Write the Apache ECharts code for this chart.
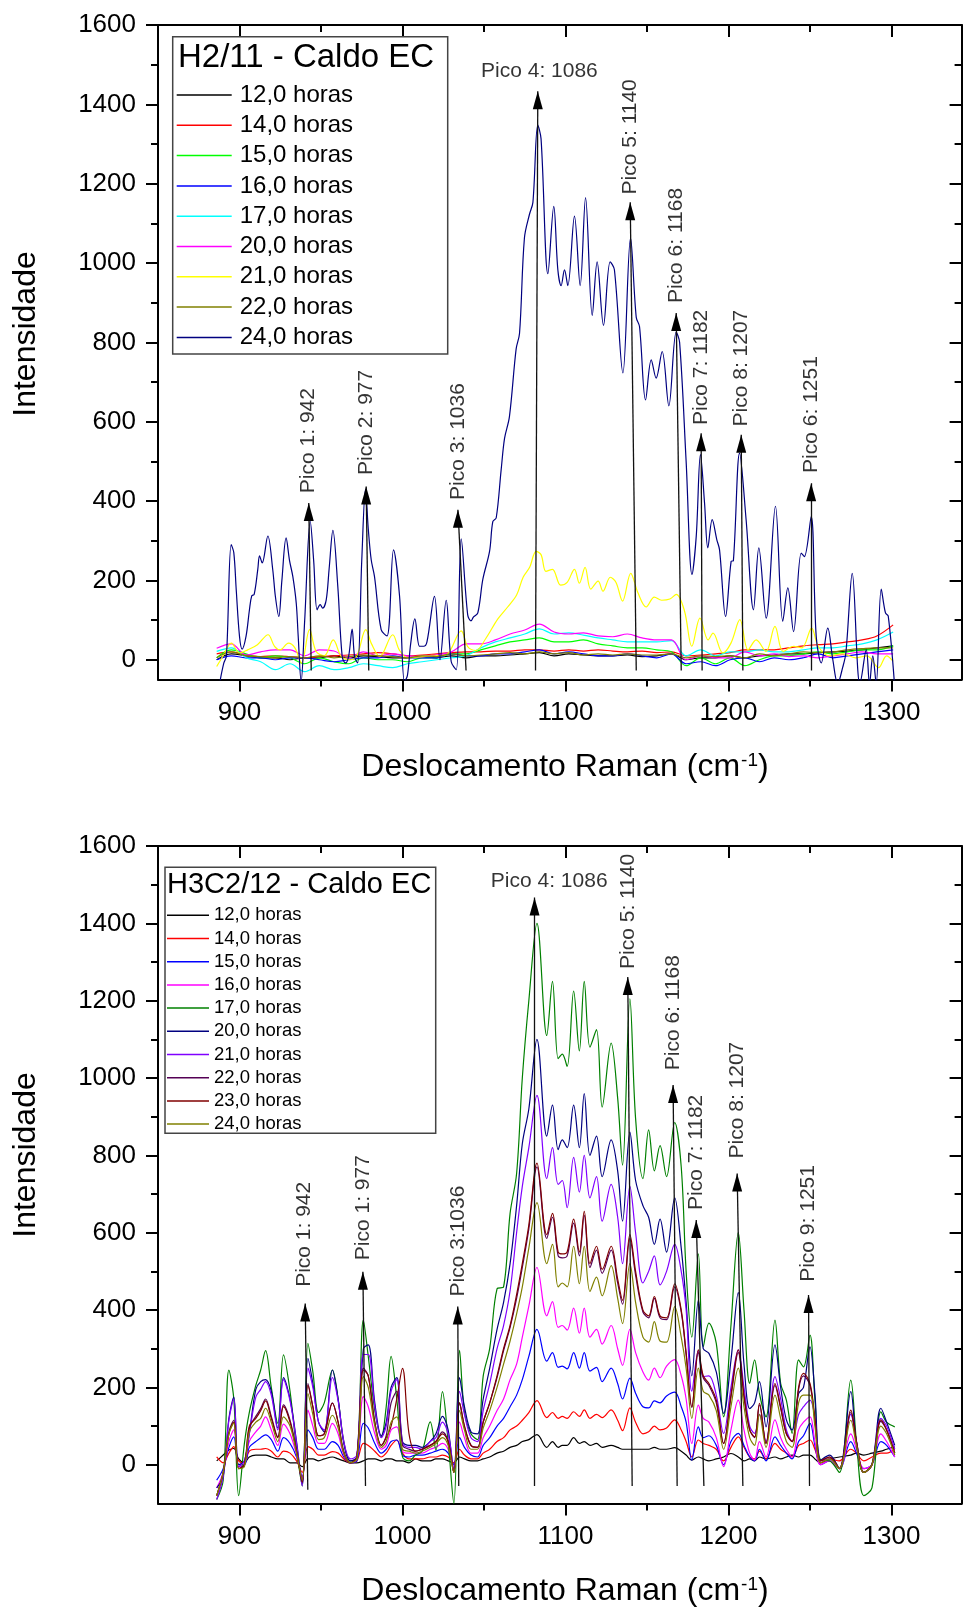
<!DOCTYPE html>
<html><head><meta charset="utf-8">
<script src="https://cdn.jsdelivr.net/npm/echarts@6/dist/echarts.min.js"></script>
<style>html,body{margin:0;padding:0;background:#fff}#c{width:964px;height:1611px}</style>
</head><body><div id="c"></div>
<script>
// ---------------- DATA ----------------
const hoursTop = ['12,0 horas','14,0 horas','15,0 horas','16,0 horas','17,0 horas','20,0 horas','21,0 horas','22,0 horas','24,0 horas'];
const hoursBottom = ['12,0 horas','14,0 horas','15,0 horas','16,0 horas','17,0 horas','20,0 horas','21,0 horas','22,0 horas','23,0 horas','24,0 horas'];
const topColors = ['#000000','#ff0000','#00ff00','#0000ff','#00ffff','#ff00ff','#ffff00','#808000','#000080'];
const bottomColors = ['#000000','#ff0000','#0000ff','#ff00ff','#008000','#000080','#8000ff','#550055','#800000','#808000'];

const xMajorTicks = [900,1000,1100,1200,1300];
const xMinorTicks = [950,1050,1150,1250];
const yMajorTicks = [0,200,400,600,800,1000,1200,1400,1600];
const yMinorTicks = [100,300,500,700,900,1100,1300,1500];

// top panel (H2/11) – low-intensity series share this grid
const topLowX = [886,895,904,913,922,931,940,949,958,967, 976,985,994,1003,1012,1021,1030,1039,1048,1057, 1066,1075,1084,1093,1102,1111,1120,1129,1138,1147, 1156,1165,1174,1183,1192,1201,1210,1219,1228,1237, 1246,1255,1264,1273,1282,1291,1301];
const top12 = [0,15,10,5,5,0,5,5,10,5, 10,8,5,5,8,5,10,5,10,10, 12,15,18,10,15,12,10,10,12,8, 10,15,0,5,5,10,5,10,12,15, 15,18,20,22,25,30,35];
const top14 = [15,20,12,8,10,8,5,8,10,12, 15,18,15,10,12,15,18,20,20,22, 22,25,25,22,25,22,25,22,20,22, 18,20,10,12,15,18,25,25,25,30, 35,38,40,45,50,60,88];
const top15 = [5,25,15,5,10,5,-10,5,-5,-10, 5,0,0,-5,5,5,15,15,25,35, 45,50,55,45,45,50,40,35,30,30, 25,20,-15,5,-10,5,-15,0,10,10, 15,20,15,20,25,25,35];
const top16 = [0,10,5,5,0,5,5,0,-5,0, 5,5,10,5,5,5,15,10,10,15, 15,20,25,15,20,15,10,10,15,10, 5,15,-10,-5,-15,0,5,-5,5,0, 5,15,5,10,15,20,25];
const top17 = [21,30,5,-5,-25,-10,-30,-15,-25,-20, -10,-15,-20,-10,-5,0,5,10,30,45, 55,65,78,65,68,62,55,50,45,45, 45,48,10,25,10,20,20,25,20,20, 25,30,30,35,40,50,70];
const top20 = [29,40,12,20,25,25,10,25,22,5, 20,10,15,10,8,12,20,40,40,50, 65,75,90,70,65,68,60,58,65,55, 50,50,0,10,5,5,20,10,15,8, 10,5,10,15,20,15,15];
const top22 = [5,20,10,8,5,8,5,10,5,8, 12,10,8,5,10,8,15,10,12,15, 18,15,20,15,18,12,15,12,15,12, 12,15,5,10,8,10,5,15,10,15, 20,18,20,25,28,30,30];

const top21X = [886,890,895,900,905,911,917.5,921.5,925,930, 934,938,943,947,952,957.5,962.5,968,972,977.5, 981,986,994,998,1003,1012.5,1020,1027,1036,1040, 1045,1051,1058.5,1064.5,1070,1074,1078,1082,1085,1088, 1092,1097,1101,1105.5,1108.5,1112,1115.5,1120,1123,1127.5, 1131,1135,1140,1144.5,1149.5,1154.5,1159,1164,1168,1173, 1177.5,1182.5,1187.5,1190.5,1196.5,1201.5,1207,1212,1217,1223, 1228.5,1233.5,1240,1245,1251,1255,1262,1270,1278,1285, 1292,1297,1301];
const top21 = [-17,10,42,17,25,38,63,34,25,42, 30,-8,76,21,10,50,8,0,10,76, 40,8,63,25,5,8,10,13,73,33, 23,53,103,133,163,208,233,273,265,223, 228,188,195,228,193,233,178,198,173,208, 195,148,218,168,133,158,150,153,165,123, 34,105,50,67,17,42,101,25,50,21, 84,21,34,30,80,34,10,15,5,10, -20,10,-4];

const top24X = [888,890.4,892,894.9,896.5,898,900,901.6,904,906.1, 907.5,909,911.2,912.3,913.9,917.4,920.4,922,924.1,926, 928.6,930.7,932.7,934.8,936,937.8,940,943.4,945.5,947.6, 949.5,951,953.2,955,957.3,960.3,963,965,967,969.1, 970.6,972.5,975,977.3,979,980.8,982.8,986.9,990.5,994.5, 998.2,1001.2,1003,1005,1007.6,1010.5,1013,1015,1019.6,1023, 1026.8,1029.9,1033,1036,1040,1042,1043.6,1046.2,1049.3,1053.4, 1055.4,1057.5,1060.5,1062.6,1065.6,1069.7,1071.8,1074.8,1077.9,1080, 1083,1085,1089.2,1092.8,1095.3,1097.3,1099.4,1101.4,1105.5,1109, 1112.3,1116.4,1119.4,1123.3,1127.4,1130,1135.2,1139.9,1143.4,1145.4, 1149.1,1152.6,1155.6,1159.3,1163.4,1167.9,1170,1174,1177.6,1180.2, 1182.8,1185.3,1187.3,1190,1192.8,1194.5,1198.2,1201.6,1203,1206.8, 1210.8,1215.3,1218.6,1223.1,1228.8,1233.3,1236.4,1239.9,1244.6,1246.5, 1250.7,1253.8,1256.9,1260.9,1264,1267,1270,1272,1275.9,1279.3, 1280.5,1284.5,1286.5,1288.5,1290.6,1293.7,1296.3,1298,1301.8];
const top24 = [-55,-8,10,290,270,176,59,27,59,126, 161,165,227,262,244,312,227,160,109,200, 307,250,210,143,60,-55,100,349,250,126, 139,130,151,230,326,185,8,-8,10,77, 8,-8,250,430,330,252,210,76,60,277, 160,-55,-40,40,103,34,34,45,160,0, 150,-5,-25,305,113,98,108,118,203,273, 348,358,478,558,613,783,823,1063,1123,1153, 1348,1313,973,1143,983,943,983,943,1118,943, 1165,868,1003,843,1003,983,723,1063,863,840, 655,756,710,777,640,826,800,500,215,311, 517,395,282,353,303,277,109,248,250,521, 353,126,282,105,387,97,181,71,269,260, 361,59,-8,80,0,-60,-20,17,218,-25, -60,25,-60,10,-60,178,118,110,-60];

// bottom panel (H3C2/12) – all series share this grid
const botX = [886,890,893.5,896.5,899.5,903,906,910,913,916, 919.5,923.5,927,931,935,938.5,942,945,948.5,952, 957,960.5,964,968,972,976,979,983,987,990, 993,996.5,1000,1004,1008,1012,1017,1020.5,1024.5,1028, 1031.5,1035,1038,1042,1046,1049.5,1053.5,1058,1062,1066, 1070,1073.5,1077.5,1082.5,1088.5,1092,1095.5,1098,1101,1105, 1108.5,1111.5,1115,1119,1122.5,1128,1132,1135,1139.5,1143, 1147.5,1151,1154.5,1158,1162,1167,1171,1174,1177.5,1181.5, 1184.5,1188,1192.5,1197,1201.5,1206,1209.5,1213,1216,1219, 1223,1228.5,1232,1235.5,1239,1243,1246,1250,1253,1256.5, 1262,1268,1275,1278.5,1283,1288,1293.5,1297,1302];
const bot12 = [10,25,38,42,15,5,20,25,25,25, 20,15,15,5,5,-5,15,15,10,15, 20,15,10,5,5,10,15,15,10,15, 15,10,10,5,15,10,10,15,15,10, 5,20,15,10,10,15,20,30,35,45, 50,60,65,78,45,60,45,50,50,70, 55,60,50,55,45,50,45,40,40,40, 40,40,45,40,40,44,35,25,12,20, 15,10,15,20,29,20,10,15,10,20, 15,20,15,20,25,20,25,25,15,5, 15,20,25,30,25,30,35,40,46];
const bot14 = [20,5,30,47,10,5,35,40,40,42, 35,20,35,30,10,-20,47,40,25,25, 34,30,15,5,10,55,50,35,20,30, 50,64,30,15,15,15,20,20,25,20, 5,40,25,15,15,30,40,60,70,90, 100,115,135,166,122,135,120,125,120,137, 125,142,120,130,122,142,115,88,147,110, 80,85,100,90,95,116,90,60,20,64, 55,50,40,10,45,72,45,20,15,35, 15,55,40,30,20,50,55,64,40,5, 15,10,40,30,10,20,30,30,40];
const bot15 = [-40,-10,45,72,0,0,45,60,70,77, 65,35,70,55,20,-30,90,70,40,40, 60,50,20,5,10,107,95,55,30,40, 60,64,25,20,25,25,30,35,40,30, 0,70,45,25,20,50,70,100,120,150, 180,220,280,350,268,290,252,255,248,290, 250,290,242,252,215,250,210,170,224,185, 150,147,165,160,178,188,150,110,12,98, 70,75,50,0,60,81,50,20,10,40, 10,72,50,30,15,60,75,107,50,0, 10,-10,60,30,-10,0,60,50,20];
const bot16 = [-60,-20,60,90,-5,0,60,85,100,124, 90,50,105,80,25,-35,141,100,55,55, 107,80,25,5,15,176,150,80,40,50, 90,98,35,30,30,30,40,45,55,40, -10,110,70,30,30,70,100,140,170,220, 260,330,410,510,385,422,355,360,348,405, 340,405,330,350,312,360,300,257,350,290, 240,219,250,225,255,272,230,170,55,154, 120,110,70,-5,90,167,90,30,12,60, 20,116,70,40,20,90,110,124,60,0, 10,-10,80,40,-10,0,80,60,20];
const bot17 = [-90,-40,245,170,-80,55,135,205,245,295, 200,107,284,190,40,-55,314,240,135,160, 245,170,60,10,15,374,280,140,72,150, 280,170,20,10,25,35,111,38,189,60, -100,296,137,80,65,229,301,455,460,650, 753,1000,1200,1400,1110,1250,1050,1062,1030,1225, 1070,1250,1080,1125,925,1090,948,775,1205,895, 740,866,760,825,745,885,770,500,330,545, 305,366,314,124,360,600,400,210,271,184, 124,374,210,167,81,271,253,335,170,12, 10,-20,219,60,-80,-60,137,110,98];
const bot20 = [-60,-30,120,175,0,10,80,195,215,220, 190,95,225,170,60,-50,275,210,110,85, 245,170,55,10,20,300,310,160,75,110, 200,225,60,50,50,45,60,80,125,90, -20,225,150,85,80,170,250,350,420,520, 670,830,920,1100,850,930,815,840,820,930, 820,960,800,850,745,840,760,630,860,735, 670,640,570,635,550,690,560,420,230,425, 300,288,240,133,270,445,260,145,160,215, 98,310,200,116,90,184,200,305,185,12, 25,-10,189,55,-20,0,146,110,50];
const bot21 = [-90,-30,115,170,-5,10,80,175,195,215, 180,90,220,165,55,-55,250,200,110,90, 225,165,60,15,25,285,285,150,70,100, 190,220,55,45,45,40,60,70,110,80, -10,190,130,70,60,140,210,300,360,450, 600,720,820,955,740,820,725,735,665,795, 705,800,690,745,630,725,640,520,720,600, 470,500,540,465,500,570,500,400,190,295, 228,230,180,81,200,297,200,100,81,130, 60,228,170,90,60,130,150,167,120,10, 15,-10,130,60,-20,0,120,100,40];
const bot22 = [-80,-20,85,115,-10,0,95,125,145,170, 125,72,155,115,35,-45,210,150,75,80, 160,110,35,5,20,250,230,110,50,75, 160,190,50,40,35,40,50,60,85,60, -20,160,100,50,45,110,160,225,295,355, 430,510,610,770,585,640,540,535,540,625, 540,645,510,555,495,555,470,415,585,490, 395,380,430,380,375,460,395,285,148,290, 225,205,160,55,175,290,175,90,70,155, 55,205,145,80,60,195,230,205,115,10, 20,-10,135,60,-20,0,112,90,30];
const bot23 = [-80,-20,80,110,-10,0,100,120,140,165, 120,70,150,110,35,-45,205,150,75,80, 159,110,30,5,20,245,230,110,50,70, 100,170,249,80,35,40,50,60,80,60, -20,160,100,50,45,110,160,230,300,360, 440,520,620,780,595,650,550,545,550,635, 550,655,520,565,505,565,480,425,595,500, 400,385,435,385,380,468,400,290,150,297, 230,210,167,55,180,297,180,90,72,159, 55,210,150,80,60,200,236,210,120,10, 20,-10,141,60,-20,0,116,90,30];
const bot24 = [-80,-20,80,107,-10,-5,85,110,120,146, 110,60,124,100,30,-40,184,130,65,70, 128,95,30,5,15,228,200,100,45,60, 110,124,40,35,30,35,45,55,70,50, -20,140,90,40,40,95,140,200,260,320, 390,460,560,678,520,570,460,470,460,565, 468,565,448,485,437,515,430,365,520,420, 330,317,370,320,317,409,330,250,120,250, 190,180,140,40,150,250,150,70,50,130, 45,180,120,60,45,160,180,180,100,5, 15,-10,115,50,-20,0,100,80,25];

// peak annotations: [x at bottom, y at bottom, x at tip, y at tip]
const topArrows = [[944,-27,942.5,395],[979.3,-27,977.7,437],[1039,-27,1034,378],[1081.6,-27,1083,1433],[1143.4,-27,1139.7,1153],[1171,-27,1167.9,874],[1183.8,-27,1183.2,571],[1208.8,-27,1207.8,567],[1250.7,-27,1250.7,445]];
const topLabels = [['Pico 1: 942',942,420],['Pico 2: 977',977.5,466],['Pico 3: 1036',1034.3,403],['Pico 5: 1140',1139.7,1173],['Pico 6: 1168',1167.9,899],['Pico 7: 1182',1183.2,592],['Pico 8: 1207',1207.8,588],['Pico 6: 1251',1250.7,471]];
const topLabelH = [['Pico 4: 1086',1084,1483]];
const botArrows = [[941.9,-65,940.3,417],[977.3,-55,975.7,499],[1034.5,-55,1033.9,409],[1081,-55,1081,1467],[1140.9,-55,1138.2,1261],[1168.5,-55,1166,982],[1184.9,-55,1180.2,633],[1208.8,-55,1205.3,753],[1249.7,-55,1249.1,439]];
const botLabels = [['Pico 1: 942',940,460],['Pico 1: 977',975.7,529],['Pico 3:1036',1034,435],['Pico 5: 1140',1138.2,1282],['Pico 6: 1168',1166,1020],['Pico 7: 1182',1180.2,659],['Pico 8: 1207',1205.3,792],['Pico 9: 1251',1249.1,473]];
const botLabelH = [['Pico 4: 1086',1090,1508]];

// ---------------- CHART ----------------
const FONT = '"Liberation Sans", Arial, Helvetica, sans-serif';
const zip = (xs, ys) => xs.map((x, i) => [x, ys[i]]);

const topData = [[topLowX,top12],[topLowX,top14],[topLowX,top15],[topLowX,top16],[topLowX,top17],[topLowX,top20],[top21X,top21],[topLowX,top22],[top24X,top24]];
const botData = [bot12,bot14,bot15,bot16,bot17,bot20,bot21,bot22,bot23,bot24];
const BPREFIX = 'b:';
const plainNum = (v) => String(v);

function lineSeries(name, color, data, ax) {
  return {type:'line', name, data, xAxisIndex:ax, yAxisIndex:ax, showSymbol:false, symbol:'none',
    smooth:0.35, clip:true, lineStyle:{color, width:1.2}, itemStyle:{color}, z:2, silent:true};
}
function annot(arrows, labels, labelsH, ax) {
  return [
    {type:'lines', coordinateSystem:'cartesian2d', xAxisIndex:ax, yAxisIndex:ax, silent:true, z:5,
      lineStyle:{color:'#111', width:1.3, opacity:1},
      data: arrows.map(a => ({coords:[[a[0],a[1]],[a[2],a[3]]]}))},
    {type:'scatter', xAxisIndex:ax, yAxisIndex:ax, silent:true, z:6,
      symbol:'path://M5,0L10,20L0,20Z', symbolSize:[10,18], symbolOffset:[0,9],
      itemStyle:{color:'#000', opacity:1}, data: arrows.map(a => [a[2],a[3]])},
    {type:'scatter', xAxisIndex:ax, yAxisIndex:ax, silent:true, z:6, symbolSize:1,
      itemStyle:{color:'rgba(0,0,0,0)'},
      label:{show:true, formatter:'{b}', rotate:90, position:'inside', align:'left', verticalAlign:'middle',
        fontSize:21, color:'#000', fontFamily:FONT},
      data: labels.map(l => ({name:l[0], value:[l[1], l[2]]}))},
    {type:'scatter', xAxisIndex:ax, yAxisIndex:ax, silent:true, z:6, symbolSize:1,
      itemStyle:{color:'rgba(0,0,0,0)'},
      label:{show:true, formatter:'{b}', position:'inside', align:'center', verticalAlign:'middle',
        fontSize:21, color:'#000', fontFamily:FONT},
      data: labelsH.map(l => ({name:l[0], value:[l[1], l[2]]}))}
  ];
}
function xAxes(g) {
  const base = {gridIndex:g, type:'value', min:850, max:1343, splitLine:{show:false}};
  const tk = {color:'#000', width:2};
  return [
    Object.assign({}, base, {position:'bottom', axisLine:{show:true, onZero:false, lineStyle:{color:'#000', width:2}},
      axisTick:{show:true, customValues:xMajorTicks, length:12, lineStyle:tk},
      axisLabel:{show:true, customValues:xMajorTicks, formatter:plainNum, fontSize:26, color:'#000', margin:20, fontFamily:FONT}}),
    Object.assign({}, base, {position:'bottom', axisLine:{show:false, onZero:false},
      axisTick:{show:true, customValues:xMinorTicks, length:7, lineStyle:tk}, axisLabel:{show:false}}),
    Object.assign({}, base, {position:'top', axisLine:{show:true, onZero:false, lineStyle:{color:'#000', width:2}},
      axisTick:{show:true, inside:true, customValues:xMajorTicks, length:12, lineStyle:tk}, axisLabel:{show:false}}),
    Object.assign({}, base, {position:'top', axisLine:{show:false, onZero:false},
      axisTick:{show:true, inside:true, customValues:xMinorTicks, length:7, lineStyle:tk}, axisLabel:{show:false}})
  ];
}
function yAxes(g, min) {
  const base = {gridIndex:g, type:'value', min:min, max:1600, splitLine:{show:false}};
  const tk = {color:'#000', width:2};
  return [
    Object.assign({}, base, {position:'left', axisLine:{show:true, onZero:false, lineStyle:{color:'#000', width:2}},
      axisTick:{show:true, customValues:yMajorTicks, length:12, lineStyle:tk},
      axisLabel:{show:true, customValues:yMajorTicks, formatter:plainNum, fontSize:26, color:'#000', margin:22, fontFamily:FONT}}),
    Object.assign({}, base, {position:'left', axisLine:{show:false, onZero:false},
      axisTick:{show:true, customValues:yMinorTicks, length:7, lineStyle:tk}, axisLabel:{show:false}}),
    Object.assign({}, base, {position:'right', axisLine:{show:true, onZero:false, lineStyle:{color:'#000', width:2}},
      axisTick:{show:true, inside:true, customValues:yMajorTicks, length:12, lineStyle:tk}, axisLabel:{show:false}}),
    Object.assign({}, base, {position:'right', axisLine:{show:false, onZero:false},
      axisTick:{show:true, inside:true, customValues:yMinorTicks, length:7, lineStyle:tk}, axisLabel:{show:false}})
  ];
}

const series = [];
hoursTop.forEach((h, i) => series.push(lineSeries(h, topColors[i], zip(topData[i][0], topData[i][1]), 0)));
hoursBottom.forEach((h, i) => series.push(lineSeries(BPREFIX + h, bottomColors[i], zip(botX, botData[i]), 4)));
series.push(...annot(topArrows, topLabels, topLabelH, 0));
series.push(...annot(botArrows, botLabels, botLabelH, 4));

const xTitle = (y) => ({type:'text', x:565, y:y, style:{text:'{a|Deslocamento Raman (cm}{s|-1}{a|)}', align:'center', verticalAlign:'middle',
  rich:{a:{fontSize:32, fontFamily:FONT, fill:'#000'}, s:{fontSize:19, fontFamily:FONT, fill:'#000', verticalAlign:'top', padding:[0,0,0,1]}}}});
const yTitle = (y) => ({type:'text', x:26, y:y, rotation:Math.PI/2, style:{text:'Intensidade', fontSize:32, fontFamily:FONT, fill:'#000', align:'center', verticalAlign:'middle'}});

const option = {
  animation:false,
  backgroundColor:'#fff',
  grid:[
    {left:158, right:2.4, top:25, height:654.6, outerBoundsMode:'none'},
    {left:158, right:2.4, top:846, height:657.4, outerBoundsMode:'none'}
  ],
  xAxis:[...xAxes(0), ...xAxes(1)],
  yAxis:[...yAxes(0, -50), ...yAxes(1, -100)],
  legend:[
    {data:hoursTop, orient:'vertical', left:176.7, top:83, padding:0, itemWidth:55, itemHeight:1.5, itemGap:6.3,
      icon:'rect', selectedMode:false, textStyle:{fontSize:24, lineHeight:24, color:'#000', fontFamily:FONT, padding:[0,0,0,3]}},
    {data:hoursBottom.map(h => BPREFIX + h), orient:'vertical', left:167, top:905.8, padding:0, itemWidth:42, itemHeight:1.5, itemGap:4.2,
      icon:'rect', selectedMode:false, formatter:(n) => n.slice(BPREFIX.length),
      textStyle:{fontSize:18.5, lineHeight:18.5, color:'#000', fontFamily:FONT}}
  ],
  graphic:[
    {type:'rect', shape:{x:172.7, y:36.7, width:275, height:317.3}, style:{fill:'none', stroke:'#444', lineWidth:1.5}, z:1},
    {type:'text', x:178, y:58, style:{text:'H2/11 - Caldo EC', fontSize:33, fontFamily:FONT, fill:'#000', align:'left', verticalAlign:'middle'}},
    {type:'rect', shape:{x:165, y:867.3, width:270.7, height:266}, style:{fill:'none', stroke:'#444', lineWidth:1.5}, z:1},
    {type:'text', x:167, y:885, style:{text:'H3C2/12 - Caldo EC', fontSize:29, fontFamily:FONT, fill:'#000', align:'left', verticalAlign:'middle'}},
    yTitle(334), yTitle(1155), xTitle(767), xTitle(1591)
  ],
  series
};
const chart = echarts.init(document.getElementById('c'), null, {renderer:'canvas'});
chart.setOption(option);
</script></body></html>
